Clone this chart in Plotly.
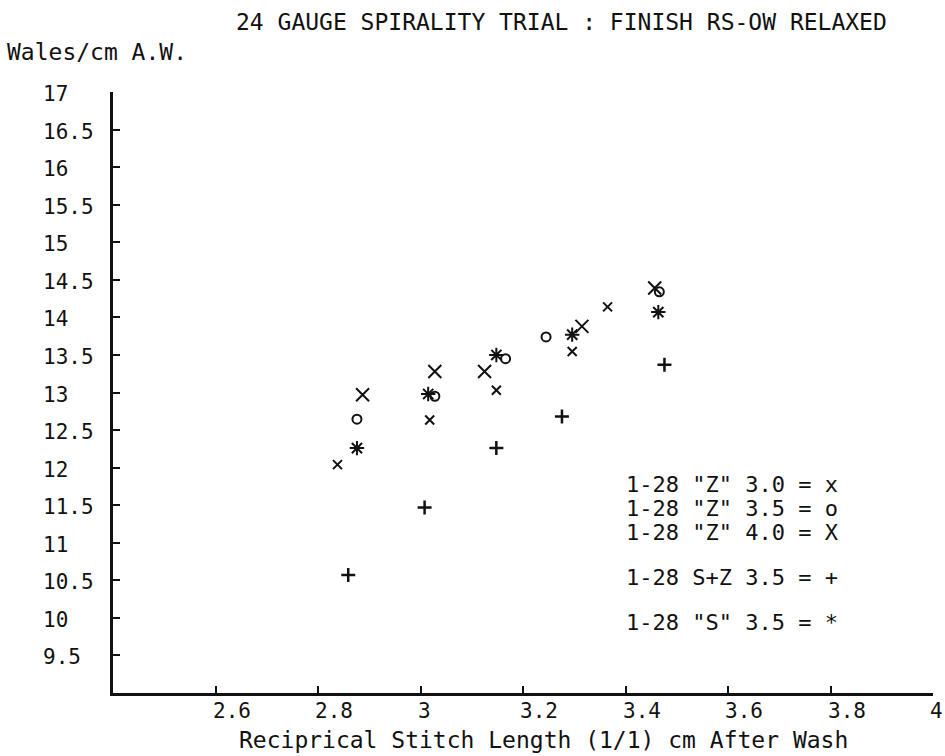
import plotly.graph_objects as go

# Reciprocal stitch length (1/cm, after wash) and wales/cm for each yarn set
z30_x = [2.838, 3.018, 3.148, 3.296, 3.365]
z30_y = [12.04, 12.635, 13.03, 13.545, 14.14]

z35_x = [2.876, 3.028, 3.166, 3.245, 3.466]
z35_y = [12.645, 12.95, 13.45, 13.74, 14.34]

z40_x = [2.887, 3.028, 3.125, 3.315, 3.457]
z40_y = [12.97, 13.28, 13.28, 13.88, 14.39]

sz35_x = [2.859, 3.008, 3.148, 3.276, 3.476]
sz35_y = [10.57, 11.47, 12.26, 12.68, 13.37]

s35_x = [2.876, 3.015, 3.148, 3.296, 3.464]
s35_y = [12.26, 12.98, 13.5, 13.77, 14.07]

x_ticks = [2.6, 2.8, 3.0, 3.2, 3.4, 3.6, 3.8, 4.0]
x_tick_labels = ["2.6", "2.8", "3", "3.2", "3.4", "3.6", "3.8", "4"]
y_ticks = [9.5, 10, 10.5, 11, 11.5, 12, 12.5, 13, 13.5, 14, 14.5, 15, 15.5, 16, 16.5, 17]
y_tick_labels = ["9.5", "10", "10.5", "11", "11.5", "12", "12.5", "13", "13.5",
                 "14", "14.5", "15", "15.5", "16", "16.5", "17"]

key_lines = ['1-28 "Z" 3.0 = x', '1-28 "Z" 3.5 = o', '1-28 "Z" 4.0 = X',
             '1-28 S+Z 3.5 = +', '1-28 "S" 3.5 = *']

INK = "#111111"
MONO = "DejaVu Sans Mono"

W, H = 945, 756
ML, MR, MT, MB = 113, 12, 92, 63
PW, PH = W - ML - MR, H - MT - MB


def px(xp):
    """Page pixel column -> plot-area paper fraction."""
    return (xp - ML) / PW


def py(yp):
    """Page pixel row -> plot-area paper fraction."""
    return (H - MB - yp) / PH


fig = go.Figure()

series = [
    (z30_x, z30_y, "x-thin", 9, 2),
    (z35_x, z35_y, "circle-open", 9, 2),
    (z40_x, z40_y, "x-thin", 13, 2),
    (sz35_x, sz35_y, "cross-thin", 10, 2.5),
    (s35_x, s35_y, "asterisk", 12, 2),
]
for xs, ys, sym, size, lw in series:
    fig.add_trace(go.Scatter(
        x=xs, y=ys, mode="markers",
        marker=dict(symbol=sym, size=size, color=INK, line=dict(color=INK, width=lw)),
        showlegend=False, hoverinfo="skip", cliponaxis=False,
    ))

annotations = []
# x tick labels start just left of their tick
for v, t in zip(x_ticks, x_tick_labels):
    annotations.append(dict(x=v, y=0, xref="x", yref="paper", text=t, showarrow=False,
                            xanchor="left", yanchor="top", xshift=-5, yshift=-4,
                            font=dict(family=MONO, size=21, color=INK)))
# y tick labels, left aligned in a column
for v, t in zip(y_ticks, y_tick_labels):
    annotations.append(dict(x=px(41), y=v, xref="paper", yref="y", text=t, showarrow=False,
                            xanchor="left", yanchor="middle", yshift=-2,
                            font=dict(family=MONO, size=21, color=INK)))

# symbol key
key_rows = [484, 508, 532, 577, 622]
for yp, t in zip(key_rows, key_lines):
    annotations.append(dict(x=px(625), y=py(yp), xref="paper", yref="paper",
                            text=t, showarrow=False, xanchor="left", yanchor="middle",
                            borderpad=0,
                            font=dict(family=MONO, size=22, color=INK)))

# y axis caption, title and x axis caption
annotations.append(dict(x=px(5), y=py(52), xref="paper", yref="paper",
                        text="Wales/cm A.W.", showarrow=False, xanchor="left",
                        yanchor="middle", font=dict(family=MONO, size=23, color=INK)))
annotations.append(dict(x=px(561), y=py(22), xref="paper", yref="paper",
                        text="24 GAUGE SPIRALITY TRIAL : FINISH RS-OW RELAXED",
                        showarrow=False, xanchor="center", yanchor="middle",
                        font=dict(family=MONO, size=23, color=INK)))
annotations.append(dict(x=px(543), y=py(740), xref="paper", yref="paper",
                        text="Reciprical Stitch Length (1/1) cm After Wash",
                        showarrow=False, xanchor="center", yanchor="middle",
                        font=dict(family=MONO, size=23, color=INK)))

fig.update_layout(
    width=W, height=H,
    margin=dict(l=ML, r=MR, t=MT, b=MB),
    paper_bgcolor="white", plot_bgcolor="white",
    annotations=annotations,
    xaxis=dict(range=[2.4, 4.0], tickvals=x_ticks, showticklabels=False,
               ticks="inside", ticklen=7, tickwidth=2, tickcolor=INK,
               showline=True, linecolor=INK, linewidth=2.5, showgrid=False,
               zeroline=False),
    yaxis=dict(range=[9, 17], tickvals=y_ticks, showticklabels=False,
               ticks="inside", ticklen=7, tickwidth=2, tickcolor=INK,
               showline=True, linecolor=INK, linewidth=2.5, showgrid=False,
               zeroline=False),
)

fig.write_html("out.html")
